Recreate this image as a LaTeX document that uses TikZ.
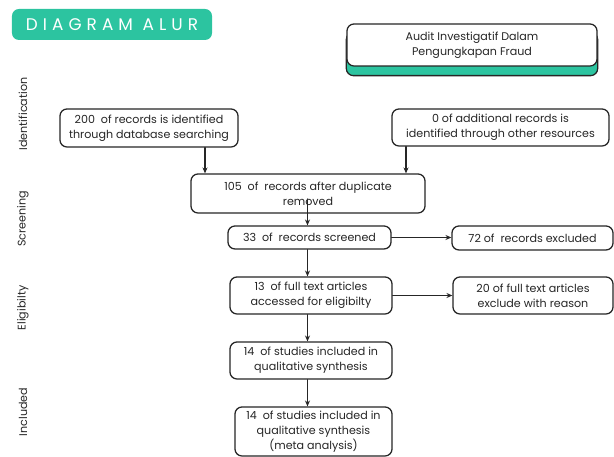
\documentclass[tikz,border=0pt]{standalone}
\usepackage{fontspec}
\setmainfont{Poppins}
\newfontfamily\bannerfont[LetterSpace=30]{Poppins}
\usetikzlibrary{arrows.meta,backgrounds}
\definecolor{alurteal}{RGB}{44,196,160}
\definecolor{alurink}{RGB}{38,38,38}

\begin{document}
\begin{tikzpicture}[x=0.025cm,y=-0.025cm,line cap=round,line join=round,
  box/.style={draw=alurink,line width=0.9pt,rounded corners=5pt,fill=white,
    align=center,inner sep=0pt,text=alurink,font=\fontsize{7.9}{10.7}\selectfont},
  flow/.style={draw=alurink,line width=0.8pt,-{Stealth[length=4.2pt,width=3.6pt]}},
  phase/.style={rotate=90,text=alurink,font=\fontsize{7.9}{9}\selectfont}]
  \useasboundingbox (0,0) rectangle (614,457);
  \node[fill=alurteal,rounded corners=5pt,minimum width=5cm,minimum height=0.775cm,
    text=white,font=\bannerfont\fontsize{12}{14}\selectfont] (title) at (112,24.5) {DIAGRAM ALUR};
  \node[box,minimum width=6.25cm,minimum height=1.05cm] (audit) at (472,45)
    {Audit Investigatif Dalam\\Pengungkapan Fraud};
  \begin{scope}[on background layer]
    \draw[alurink,line width=0.9pt,fill=alurteal,rounded corners=5pt]
      ([yshift=-6.4pt]audit.south west) rectangle ([yshift=-6.4pt]audit.north east);
  \end{scope}
  \node[phase] (ident) at (23,114) {Identification};
  \node[phase] (screen) at (23,219) {Screening};
  \node[phase] (elig) at (23,308) {Eligibilty};
  \node[phase] (incl) at (23,412) {Included};
  \node[box,minimum width=4.45cm,minimum height=0.95cm] (db) at (149,128)
    {200~ of records is identified\\through database searching};
  \node[box,minimum width=5.425cm,minimum height=0.925cm] (other) at (500.5,127.5)
    {0 of additional records is\\identified through other resources};
  \node[box,minimum width=5.85cm,minimum height=0.975cm] (dup) at (308,193.5)
    {105~ of~ records after duplicate\\removed};
  \node[box,minimum width=4.075cm,minimum height=0.575cm] (scr) at (309.5,237.5)
    {33~ of~ records screened};
  \node[box,minimum width=4.025cm,minimum height=0.6cm] (excl) at (532.5,238)
    {72 of~ records excluded};
  \node[box,minimum width=4.05cm,minimum height=0.925cm] (full) at (311,295.5)
    {13~ of full text articles\\accessed for eligibilty};
  \node[box,minimum width=4cm,minimum height=0.925cm] (reason) at (533,295.5)
    {20 of full text articles\\exclude with reason};
  \node[box,minimum width=4.05cm,minimum height=0.925cm] (qual) at (311,360.5)
    {14~ of studies included in\\qualitative synthesis};
  \node[box,minimum width=3.925cm,minimum height=1.225cm] (meta) at (313.5,431.5)
    {14~ of studies included in\\qualitative synthesis\\(meta analysis)};
  \coordinate (dbx) at (205,0);
  \coordinate (otherx) at (406,0);
  \coordinate (spine) at (307.5,0);
  \coordinate (dupin) at (307.5,199);
  \draw[flow] (db.south -| dbx) -- (dup.north -| dbx);
  \draw[flow] (other.south -| otherx) -- (dup.north -| otherx);
  \draw[flow] (dupin) -- (scr.north -| dupin);
  \draw[flow] (scr.east) -- (excl.west |- scr.east);
  \draw[flow] (scr.south -| spine) -- (full.north -| spine);
  \draw[flow] (full.east) -- (reason.west |- full.east);
  \draw[flow] (full.south -| spine) -- (qual.north -| spine);
  \draw[flow] (qual.south -| spine) -- (meta.north -| spine);
\end{tikzpicture}
\end{document}
